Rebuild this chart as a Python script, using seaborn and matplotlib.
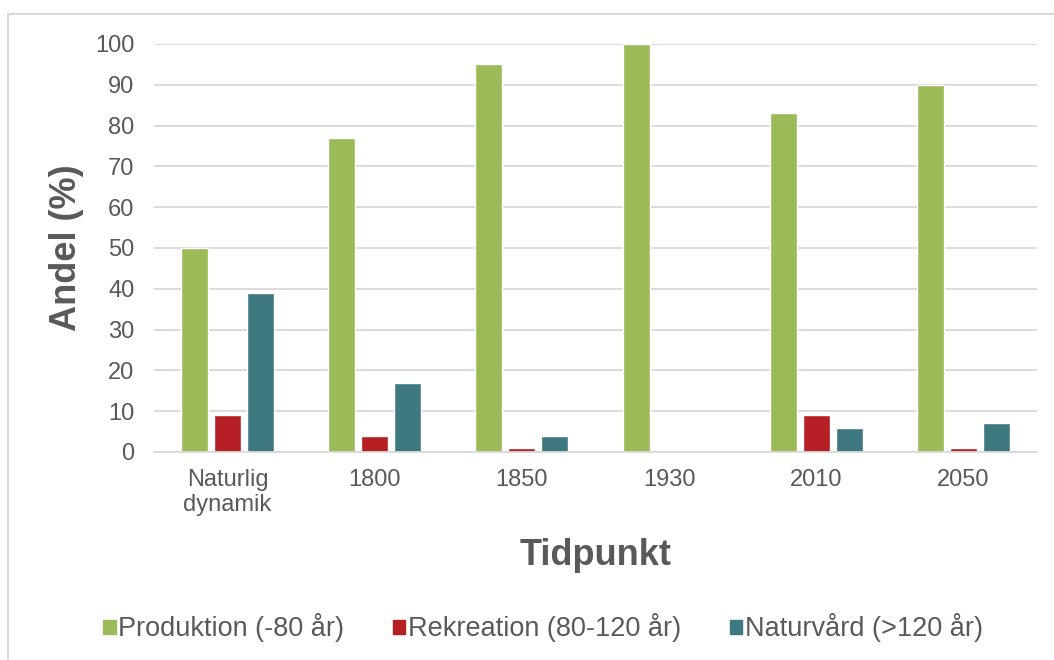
import pandas as pd
import seaborn as sns
import matplotlib.pyplot as plt
from matplotlib.patches import Rectangle

tidpunkter = ['Naturlig\ndynamik', '1800', '1850', '1930', '2010', '2050']
serier = ['Produktion (-80 år)', 'Rekreation (80-120 år)', 'Naturvård (>120 år)']
produktion = [50, 77, 95, 100, 83, 90]
rekreation = [9, 4, 1, 0, 9, 1]
naturvard = [39, 17, 4, 0, 6, 7]
farger = ['#9BBB59', '#B61F24', '#3E7880']

df = pd.DataFrame({
    'Tidpunkt': tidpunkter * 3,
    'Serie': [serier[0]] * 6 + [serier[1]] * 6 + [serier[2]] * 6,
    'Andel': produktion + rekreation + naturvard,
})

sns.set_style('white')
plt.rcParams['font.family'] = ['Liberation Sans', 'DejaVu Sans']
textfarg = '#595959'

fig = plt.figure(figsize=(10.54, 6.6), dpi=100)
ax = fig.add_axes([154 / 1054, 1 - 452 / 660, (1037 - 154) / 1054, (452 - 44) / 660])

sns.barplot(data=df, x='Tidpunkt', y='Andel', hue='Serie', palette=farger,
            width=0.673, gap=0.18, ax=ax, saturation=1, legend=True)

ax.set_ylim(0, 100)
ax.set_yticks(range(0, 101, 10))
ax.yaxis.grid(True, color='#D9D9D9', linewidth=1.3)
ax.set_axisbelow(True)
for s in ['top', 'right', 'left']:
    ax.spines[s].set_visible(False)
ax.spines['bottom'].set_color('#D9D9D9')
ax.spines['bottom'].set_linewidth(1.3)
ax.tick_params(axis='both', length=0, labelsize=17, labelcolor=textfarg)
ax.tick_params(axis='y', pad=14)
ax.tick_params(axis='x', pad=12)

ax.set_ylabel('Andel (%)', fontsize=26, fontweight='bold', color=textfarg, labelpad=8)
ax.set_xlabel('Tidpunkt', fontsize=26, fontweight='bold', color=textfarg, labelpad=16)

ax.get_legend().remove()
handles = [Rectangle((0, 0), 1, 1, color=c) for c in farger]
fig.legend(handles, serier, loc='center', bbox_to_anchor=(543 / 1054, 1 - 628 / 660),
           ncol=3, frameon=False, fontsize=19.5, handlelength=0.45, handleheight=0.45,
           handletextpad=0.1, columnspacing=1.8, labelcolor=textfarg)

fig.patches.append(Rectangle((8 / 1054, -0.1), 1.2, 1 - 14 / 660 + 0.1,
                             transform=fig.transFigure, fill=False,
                             edgecolor='#D9D9D9', linewidth=1.5))

plt.savefig('out.png', dpi=100)
plt.close()
